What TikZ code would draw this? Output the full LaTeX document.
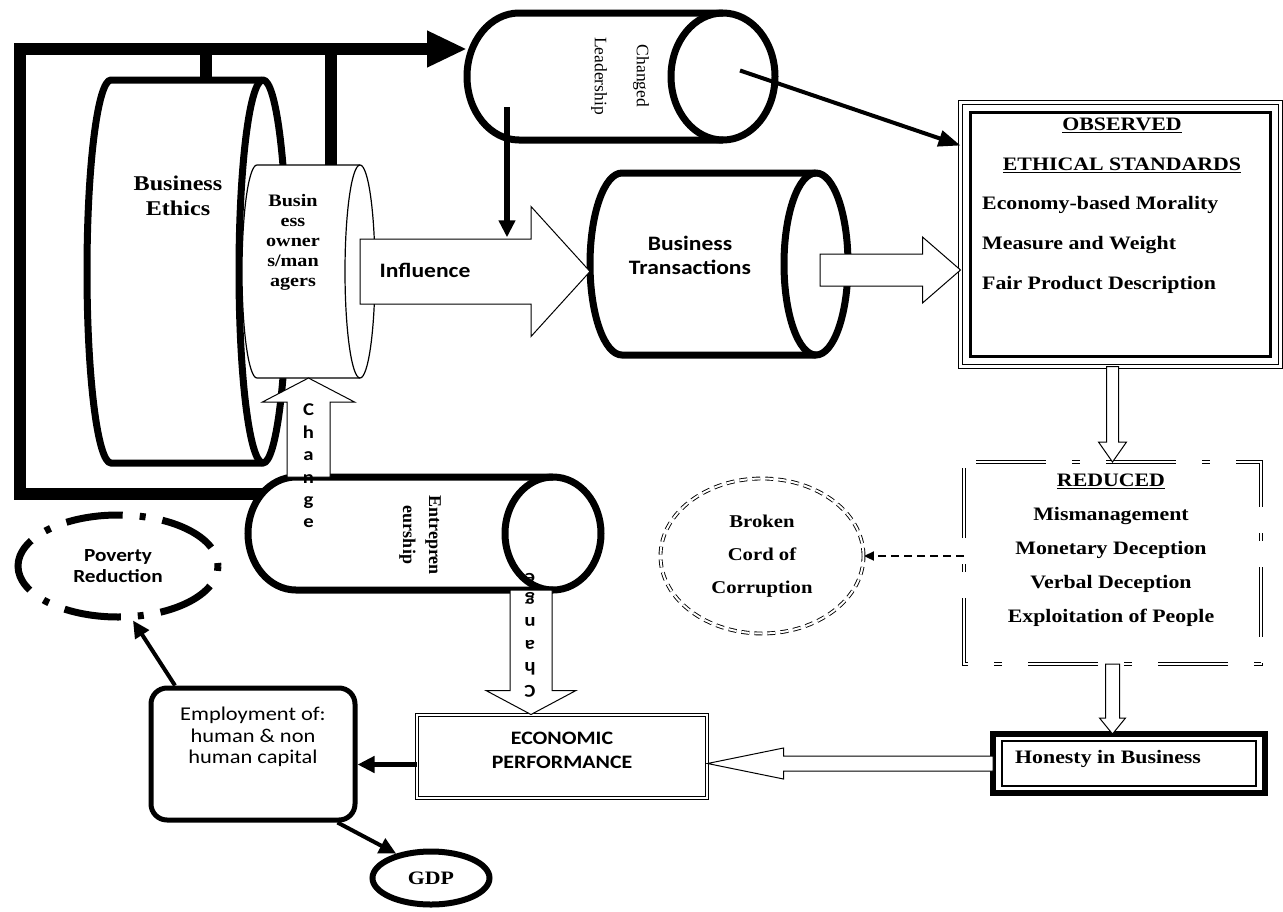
\documentclass[tikz,border=0pt]{standalone}
\usepackage{fontspec}
\setmainfont{Liberation Serif}[FakeStretch=1.15]
\newfontfamily\plainserif{Liberation Serif}
\newfontfamily\calibri{Carlito}[FakeStretch=1.15]
\usetikzlibrary{arrows.meta,calc,shapes.geometric}

\begin{document}
\begin{tikzpicture}[x=1pt, y=-1pt,
  frame/.style={line width=12pt},
  conn/.style={line width=5pt, -{Triangle[length=17pt,width=16pt]}},
  hollow/.style args={#1/#2/#3}{draw, fill=white, line width=1pt,
    to path={($(\tikztostart)!#1pt!90:(\tikztotarget)$)
      -- ($(\tikztotarget)!#3pt!(\tikztostart)!#1pt!90:(\tikztotarget)$)
      -- ($(\tikztotarget)!#3pt!(\tikztostart)!#2pt!90:(\tikztotarget)$)
      -- (\tikztotarget)
      -- ($(\tikztotarget)!#3pt!(\tikztostart)!#2pt!-90:(\tikztotarget)$)
      -- ($(\tikztotarget)!#3pt!(\tikztostart)!#1pt!-90:(\tikztotarget)$)
      -- ($(\tikztostart)!#1pt!-90:(\tikztotarget)$) -- cycle}},
  txt/.style={inner sep=0pt, align=center}
]
\path[use as bounding box, fill=white] (0,0) rectangle (1283,911);
\coordinate (corner) at (20,49);

\foreach \nm/\xa/\xb/\ya/\yb/\rx/\lw in {beth/87/287/80/463/24/7, owners/242/375/165/378/15/1.2,
    chg/467/775/13/140/52/7, btrans/590/848/173/355/32/7, entre/248/601/477/590/48/7}{
  \pgfmathsetmacro\ry{(\yb-\ya)/2}
  \draw[line width=\lw pt, fill=white] (\xa+\rx,\ya) -- (\xb-\rx,\ya)
    arc[start angle=-90, end angle=90, x radius=\rx, y radius=\ry]
    -- (\xa+\rx,\yb)
    arc[start angle=90, end angle=270, x radius=\rx, y radius=\ry] -- cycle;
  \draw[line width=\lw pt] (\xb-\rx,\ya)
    arc[start angle=-90, end angle=-270, x radius=\rx, y radius=\ry];
  \node[inner sep=0pt, outer sep=0pt, minimum width={(\xb-\xa)*1pt}, minimum height={(\yb-\ya)*1pt}]
    (\nm) at ({(\xa+\xb)/2},{(\ya+\yb)/2}) {};
}

\draw[frame, -{Triangle[length=40pt,width=34pt]}] ([shift={(14,-40)}]entre.west) -| (corner) -- (corner -| chg.west);
\draw[frame] ([xshift=19]beth.north) -- ([xshift=19]beth.north |- corner);
\draw[frame] ([xshift=22.5]owners.north) -- ([xshift=22.5]owners.north |- corner);

\node[draw, double, double distance=2.5pt, line width=1.2pt, outer sep=0pt, minimum width=320pt, minimum height=264pt] (obs) at (1120.5,234.5) {};
\draw[line width=3pt] ([shift={(10,10)}]obs.north west) rectangle ([shift={(-10,-10)}]obs.south east);
\node[outer sep=0pt, minimum width=297pt, minimum height=202pt] (red) at (1112.5,563) {};
\draw[double, double distance=2.2pt, line width=1.1pt, dash pattern=on 70pt off 26pt on 8pt off 26pt]
  ([xshift=12]red.north west) -- (red.north east) -- (red.south east) -- (red.south west) -- (red.north west);
\node[draw, line width=5.5pt, outer sep=0pt, minimum width=272pt, minimum height=59pt] (hon) at (1129,763.5) {};
\draw[line width=1.2pt] ([shift={(9,7)}]hon.north west) rectangle ([shift={(-9,-7)}]hon.south east);
\node[draw, double, double distance=2pt, line width=1pt, minimum width=290pt, minimum height=83pt] (econ) at (562,756.5) {};
\node[draw, line width=5pt, rounded corners=16pt, minimum width=204pt, minimum height=132pt] (emp) at (253,754) {};
\node[ellipse, draw, line width=7pt, dash pattern=on 6pt off 17pt on 57pt off 17pt, dash phase=3pt,
  minimum width=200pt, minimum height=102pt,
  txt, font=\calibri\bfseries\fontsize{18.5}{21}\selectfont] (pov) at (118,566) {Poverty\\Reduction};
\node[ellipse, draw, line width=6pt, minimum width=117pt, minimum height=53pt, txt,
  font=\bfseries\fontsize{19}{22}\selectfont] (gdp) at (431,878) {GDP};
\node[ellipse, draw, double, double distance=2pt, line width=0.9pt, dash pattern=on 8pt off 5pt, minimum width=203pt, minimum height=155pt,
  txt, font=\bfseries\fontsize{18}{33}\selectfont] (broken) at (762,556) {Broken\\Cord of\\Corruption};

\coordinate (bt) at ([shift={(-28,6)}]btrans.east);
\coordinate (chdown) at ([xshift=-31]econ.north);
\draw[hollow=32.5/65/59] ([xshift=-15]owners.east) to (btrans.west |- owners.east);
\draw[hollow=16/33/38] (bt) to (bt -| obs.west);
\draw[hollow=6/14/20] (red.north |- obs.south) to (red.north);
\draw[hollow=7/13/16] (red.south) to (red.south |- hon.north);
\draw[hollow=7.5/15.5/76] (hon.west) to (econ.east |- hon.west);
\draw[hollow=21.5/46/24] (owners.south |- entre.north) to (owners.south);
\draw[hollow=21/45/24] (chdown |- entre.south) to (chdown);

\node[txt, font=\bfseries\fontsize{21}{25}\selectfont] (bethtxt) at (178,196) {Business\\Ethics};
\node[txt, font=\bfseries\fontsize{17.5}{20}\selectfont] (ownerstxt) at (293,242) {Busin\\ess\\owner\\s/man\\agers};
\node[txt, rotate=-90, font=\plainserif\fontsize{17.5}{42}\selectfont] (chgtxt) at (620,76) {Changed\\Leadership};
\node[txt, font=\calibri\bfseries\fontsize{20.5}{24}\selectfont] (btranstxt) at (690,255) {Business\\Transactions};
\node[txt, rotate=-90, font=\plainserif\bfseries\fontsize{18}{26}\selectfont] (entretxt) at (420,535) {Entrepren\\eurship};
\node[txt, minimum height=65pt, font=\calibri\bfseries\fontsize{20.5}{24}\selectfont] (infl) at (425,270) {Influence};
\node[txt, font=\bfseries\fontsize{19}{40}\selectfont] (obshead) at (1122,145) {\underline{OBSERVED}\\\underline{ETHICAL STANDARDS}};
\node[txt, anchor=west, align=left, font=\bfseries\fontsize{19}{40}\selectfont] (obsitems) at (982,245) {Economy-based Morality\\Measure and Weight\\Fair Product Description};
\node[txt, font=\bfseries\fontsize{19}{34}\selectfont] (redtxt) at (1111,550) {\underline{REDUCED}\\Mismanagement\\Monetary Deception\\Verbal Deception\\Exploitation of People};
\node[txt, anchor=west, font=\bfseries\fontsize{19}{22}\selectfont] (hontxt) at (1015,759) {Honesty in Business};
\node[txt, font=\calibri\bfseries\fontsize{19}{24}\selectfont] (econtxt) at (562,750) {ECONOMIC\\PERFORMANCE};
\node[txt, font=\calibri\fontsize{19.5}{21.5}\selectfont] (emptxt) at (253,737) {Employment of:\\human \& non\\human capital};
\node[txt, font=\calibri\bfseries\fontsize{18}{22.4}\selectfont] (chup) at (308.5,466) {C\\h\\a\\n\\g\\e};
\node[txt, rotate=180, font=\calibri\bfseries\fontsize{18}{22.4}\selectfont] (chdn) at (530,635) {C\\h\\a\\n\\g\\e};

\draw[conn, line width=6pt] ([shift={(40,-33)}]chg.south west) -- ([xshift=40]chg.south west |- infl.north);
\draw[conn, line width=4pt, -{Triangle[length=22pt,width=16pt]}] ([shift={(-35,-6)}]chg.east) -- ([shift={(0,43)}]obs.north west);
\draw[conn] ([shift={(0,8)}]econ.west) -- ([shift={(0,8)}]econ.west -| emp.east);
\draw[conn, line width=4pt] ([xshift=-78]emp.north) -- ([xshift=15]pov.south);
\draw[conn, line width=4pt] ([xshift=-20]emp.south east) -- (gdp.145);
\draw[line width=2pt, dash pattern=on 8pt off 5pt, -{Triangle[length=10pt,width=9pt]}] (red.west |- broken.east) -- (broken.east);
\end{tikzpicture}
\end{document}
